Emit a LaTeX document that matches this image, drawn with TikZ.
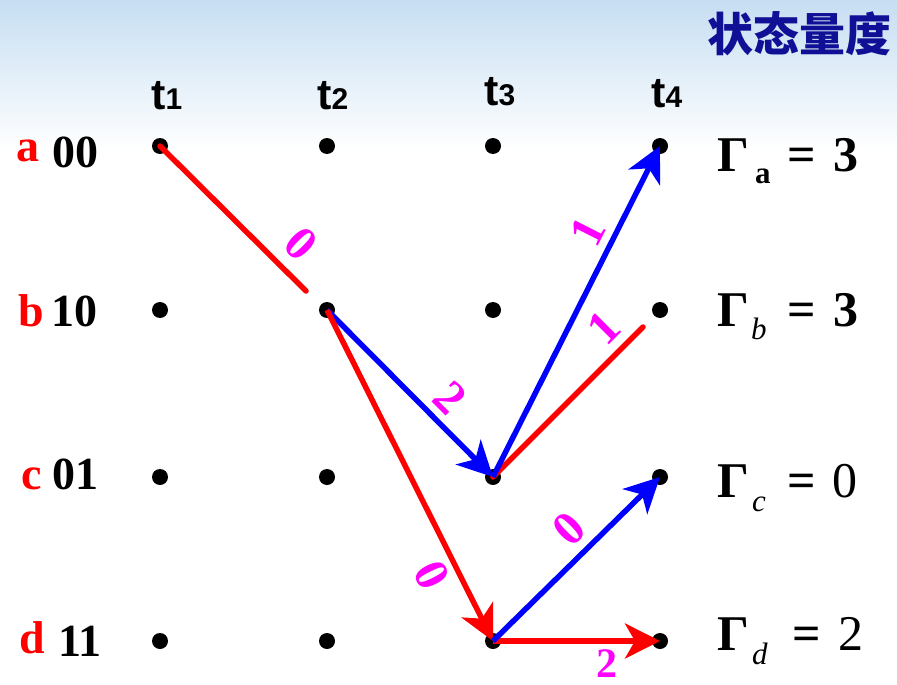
\documentclass[tikz,border=0pt]{standalone}
\usepackage{fontspec}
\setmainfont{Liberation Serif}
\newfontfamily\cjkfont{Noto Sans CJK SC}
\newfontfamily\arialfont{Liberation Sans}
\usetikzlibrary{arrows.meta}
\definecolor{titleblue}{RGB}{16,16,150}
\definecolor{bgblue}{RGB}{198,222,242}
\definecolor{lblmag}{RGB}{255,0,255}
\definecolor{myred}{RGB}{255,0,0}
\definecolor{myblue}{RGB}{0,0,255}
\begin{document}
\begin{tikzpicture}[x=1pt,y=-1pt,
  dot/.style={circle,fill=black,inner sep=0pt,minimum size=16pt},
  redline/.style={draw=myred,line width=5.5pt},
  blueline/.style={draw=myblue,line width=5.5pt},
  arrowhd/.style={-{Stealth[length=35pt,width=35pt,inset=10pt]}},
  elabel/.style={text=lblmag,font=\fontsize{48}{48}\selectfont\bfseries,inner sep=0pt},
  rowl/.style={font=\fontsize{46}{46}\selectfont\bfseries,inner sep=0pt,anchor=base west},
  tl/.style={inner sep=0pt,anchor=base west},
  gam/.style={font=\fontsize{50}{50}\selectfont,inner sep=0pt,anchor=base west},
  gamb/.style={font=\fontsize{50}{50}\selectfont\bfseries,inner sep=0pt,anchor=base west},
  subl/.style={font=\fontsize{31}{31}\selectfont\itshape,inner sep=0pt,anchor=base west},
]
\useasboundingbox (0,0) rectangle (897,685);
\fill[white] (0,0) rectangle (897,685);
\shade[top color=bgblue,bottom color=white] (0,0) rectangle (897,150);

% title
\node[inner sep=0pt,anchor=base east,text=titleblue] (title) at (892,52)
  {\cjkfont\bfseries\fontsize{46}{46}\selectfont 状态量度};

% time labels
\newcommand{\tlab}[1]{\arialfont\bfseries{\fontsize{43}{43}\selectfont t}{\fontsize{30}{30}\selectfont #1}}
\node[tl] (t1) at (151,110) {\tlab{1}};
\node[tl] (t2) at (317,110) {\tlab{2}};
\node[tl] (t3) at (484,105) {\tlab{3}};
\node[tl] (t4) at (651,107) {\tlab{4}};

% dots
\foreach \r/\y in {a/146,b/310,c/477,d/641}{
  \foreach \c/\x in {1/160,2/327,3/493,4/660}{
    \node[dot] (\r\c) at (\x,\y) {};
  }
}

% row labels
\node[rowl,text=myred] (la) at (16,161) {a};
\node[rowl] (sa) at (52,167) {00};
\node[rowl,text=myred] (lb) at (18,326) {b};
\node[rowl] (sb) at (51,326) {10};
\node[rowl,text=myred] (lc) at (21,489) {c};
\node[rowl] (sc) at (52,489) {01};
\node[rowl,text=myred] (ld) at (19,653) {d};
\node[rowl] (sd) at (58,656) {11};

% right labels
\node[gamb] (ga) at (717,171) {Γ};
\node[subl,font=\fontsize{31}{31}\selectfont\bfseries] (ga-s) at (755,183) {a};
\node[gamb] (ga-e) at (787,171) {=};
\node[gamb] (ga-v) at (833,171) {3};

\node[gamb] (gb) at (717,326) {Γ};
\node[subl] (gb-s) at (751,339) {b};
\node[gamb] (gb-e) at (787,326) {=};
\node[gamb] (gb-v) at (833,326) {3};

\node[gamb] (gc) at (717,497) {Γ};
\node[subl] (gc-s) at (752,511) {c};
\node[gamb] (gc-e) at (787,497) {=};
\node[gam] (gc-v) at (832,497) {0};

\node[gamb] (gd) at (717,650) {Γ};
\node[subl] (gd-s) at (752,664) {d};
\node[gamb] (gd-e) at (792,650) {=};
\node[gam] (gd-v) at (838,650) {2};

% connectors
\coordinate (e1) at (306,291);
\coordinate (e2) at (643,327);
\draw[redline,line cap=round] (a1.center) -- (e1);
\draw[blueline,arrowhd] (b2.center) -- (c3.center);
\draw[redline,arrowhd] (b2.center) -- (d3.center);
\draw[redline,line cap=round] (c3.center) -- (e2);
\draw[blueline,arrowhd] (c3.center) -- (a4.center);
\draw[redline,arrowhd] (d3.center) -- (d4.center);
\draw[blueline,arrowhd] (d3.center) -- (c4.center);

% edge labels
\node[elabel,rotate=-45] (l1) at (301,244) {0};
\node[elabel,rotate=-45] (l2) at (450,398) {2};
\node[elabel,rotate=-63.4] (l3) at (432,575) {0};
\node[elabel,rotate=63.2] (l4) at (588,232) {1};
\node[elabel,rotate=45] (l5) at (604,328) {1};
\node[elabel,rotate=44.5] (l6) at (569,529) {0};
\node[elabel,font=\fontsize{42}{42}\selectfont\bfseries] (l7) at (607,664) {2};
\end{tikzpicture}
\end{document}
